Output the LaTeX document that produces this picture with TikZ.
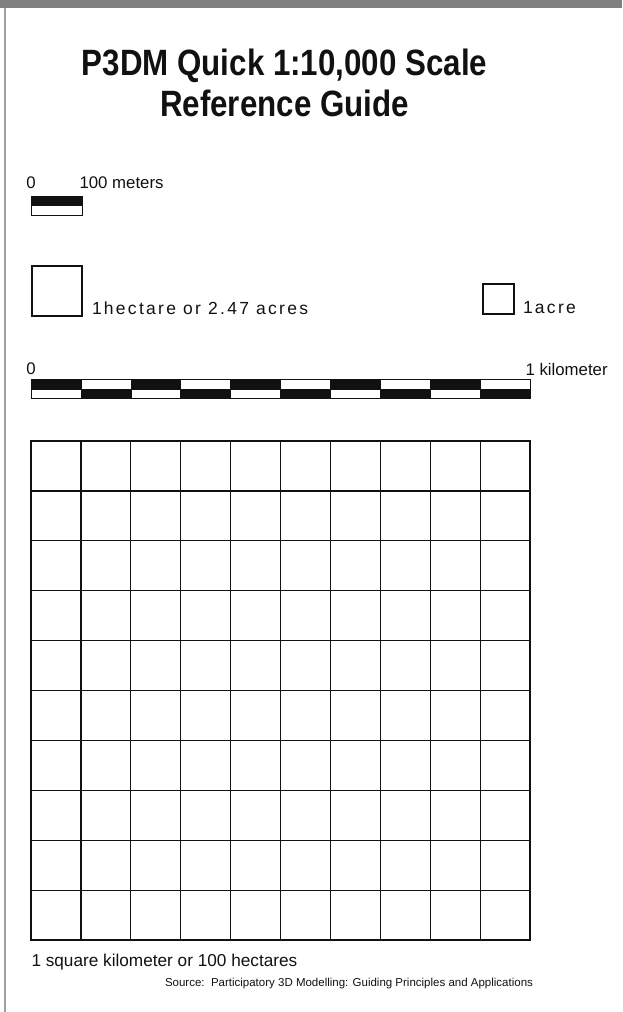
\documentclass[tikz,border=0pt]{standalone}
\usepackage{fontspec}
\setmainfont{Liberation Sans}
\definecolor{topgray}{HTML}{808080}
\definecolor{rulegray}{HTML}{A0A0A0}
\definecolor{ink}{HTML}{111111}
\newcommand{\tallbox}[1]{\scalebox{1.0}[1.17]{#1}}
\begin{document}
\begin{tikzpicture}[x=1pt,y=-1pt,
  txt/.style={inner sep=0pt, outer sep=0pt, text=ink, anchor=base west},
  titletext/.style={inner sep=0pt, text=ink, anchor=base, font=\fontsize{31.3}{31}\selectfont\bfseries},
  labeltext/.style={txt, font=\fontsize{16.8}{18}\selectfont},
  spacedtext/.style={txt, font=\fontsize{17.5}{19}\selectfont\addfontfeature{LetterSpace=13}},
  bigtext/.style={txt, font=\fontsize{17.2}{19}\selectfont},
  sourcetext/.style={txt, font=\fontsize{11.5}{13}\selectfont},
  barline/.style={draw=ink, line width=0.9pt},
  barfill/.style={fill=ink},
  sqline/.style={draw=ink, line width=2pt},
  gridinner/.style={draw=ink, line width=1.2pt},
  gridouter/.style={draw=ink, line width=2.6pt},
]
\useasboundingbox (0,0) rectangle (622,1012);
% top bar and left rule
\fill[topgray] (0,0) rectangle (622,8);
\draw[rulegray, line width=2pt] (4.5,8) -- (4.5,1012);

% title
\node[titletext] (title1) at (284.5,75) {\tallbox{P3DM Quick 1:10,000 Scale}};
\node[titletext] (title2) at (284.5,116) {\tallbox{Reference Guide}};

% 100 m scale bar
\node[labeltext] (zero1) at (26.5,188) {0};
\node[labeltext] (hundred) at (79.5,188) {100 meters};
\fill[barfill] (31,196) rectangle (82,205.5);
\draw[barline] (31,196) rectangle (82,215);
\draw[barline] (31,205.5) -- (82,205.5);

% hectare and acre squares
\draw[sqline] (32,266) rectangle (81.5,315.5);
\node[spacedtext] (hectare) at (92,314) {1hectare or 2.47 acres};
\draw[sqline] (483,284) rectangle (513.5,313.5);
\node[spacedtext] (acre) at (523,313) {1acre};

% 1 km scale bar
\node[labeltext] (zero2) at (26.5,374) {0};
\node[labeltext] (km) at (525.5,375) {1 kilometer};
\foreach \i in {0,...,9} {
  \pgfmathsetmacro{\xa}{31+49.9*\i}
  \pgfmathsetmacro{\xb}{31+49.9*(\i+1)}
  \ifodd\i
    \fill[barfill] (\xa,389) rectangle (\xb,398);
  \else
    \fill[barfill] (\xa,379) rectangle (\xb,389);
  \fi
}
\draw[barline] (31,379) rectangle (530,398);
\draw[barline] (31,389) -- (530,389);
\foreach \i in {1,...,9} {
  \pgfmathsetmacro{\xa}{31+49.9*\i}
  \draw[barline, line width=0.6pt] (\xa,379) -- (\xa,398);
}

% 1 km^2 grid
\foreach \i in {1,...,9} {
  \pgfmathsetmacro{\p}{31+49.9*\i}
  \pgfmathsetmacro{\q}{441+49.9*\i}
  \draw[gridinner] (\p,441) -- (\p,940);
  \draw[gridinner] (31,\q) -- (530,\q);
}
\draw[gridouter] (31,441) rectangle (530,940);

% captions
\node[bigtext] (sqkm) at (31.5,966) {1 square kilometer or 100 hectares};
\node[sourcetext] (source) at (165,986) {Source:\ \ Participatory 3D Modelling: Guiding Principles and Applications};
\end{tikzpicture}
\end{document}
